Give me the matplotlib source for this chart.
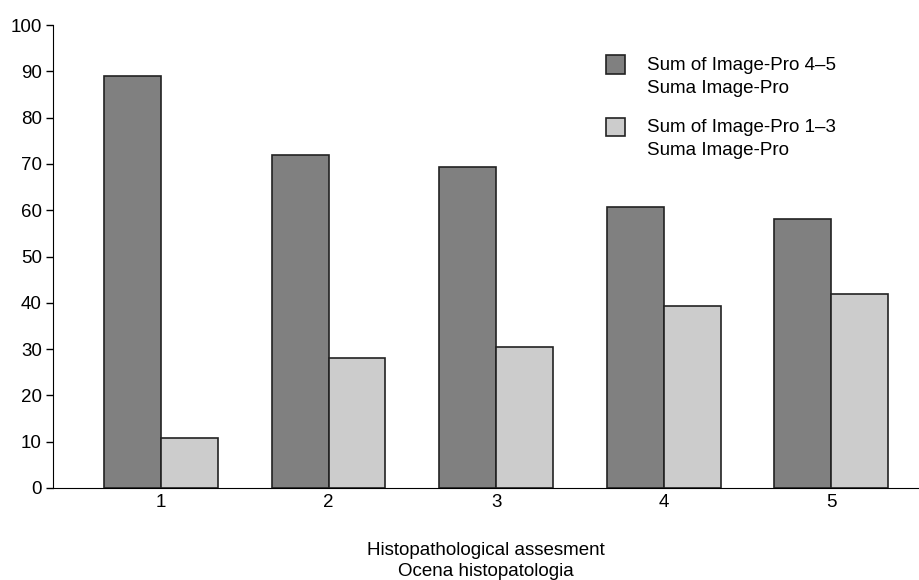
import numpy as np
import matplotlib.pyplot as plt
from matplotlib.patches import Rectangle
from matplotlib.container import BarContainer
from matplotlib.legend_handler import HandlerPatch, update_from_first_child

plt.rcParams['font.family'] = ['Liberation Sans', 'DejaVu Sans']

categories = ['1', '2', '3', '4', '5']
high_scores = [89.0, 71.9, 69.4, 60.7, 58.1]   # Image-Pro 4-5
low_scores = [10.9, 28.1, 30.5, 39.3, 41.9]    # Image-Pro 1-3
labels = ['Sum of Image-Pro 4\u20135\nSuma Image-Pro',
          'Sum of Image-Pro 1\u20133\nSuma Image-Pro']
FS = 13.5


# legend square sits next to the first text line, not centred on both
def top_square(legend, orig_handle, xdescent, ydescent, width, height, fontsize):
    s = 1.0 * fontsize
    return Rectangle((-xdescent, 0.49 * fontsize), s, s)


fig = plt.figure(figsize=(9.19, 5.8), dpi=100)
ax = fig.add_axes([53/919, 92/580, 866/919, 463/580])

x = np.arange(1, len(categories) + 1)
w = 0.34
ax.bar(x - w/2, high_scores, w, color='#808080', edgecolor='#222222', linewidth=1.2, label=labels[0])
ax.bar(x + w/2, low_scores, w, color='#cccccc', edgecolor='#222222', linewidth=1.2, label=labels[1])

ax.set_xlim(0.355, 5.525)
ax.set_ylim(0, 100)
ax.set_yticks(np.arange(0, 101, 10))
ax.set_xticks(x)
ax.set_xticklabels(categories)
ax.tick_params(axis='x', length=0, labelsize=FS, pad=4.5)
ax.tick_params(axis='y', length=5, labelsize=FS, width=1, pad=3)
for s in ['top', 'right']:
    ax.spines[s].set_visible(False)
ax.set_xlabel('Histopathological assesment\nOcena histopatologia', fontsize=FS,
              labelpad=22, linespacing=1.3)

leg = ax.legend(loc='upper left', bbox_to_anchor=(606/919, 1 - 57/580), bbox_transform=fig.transFigure,
                frameon=False, fontsize=FS, borderpad=0, borderaxespad=0,
                handlelength=1.05, handleheight=0.7, handletextpad=1.14, labelspacing=1.21,
                handler_map={BarContainer: HandlerPatch(patch_func=top_square,
                                                        update_func=update_from_first_child)})
for t in leg.get_texts():
    t.set_linespacing(1.43)

fig.savefig('out.png', dpi=100)
